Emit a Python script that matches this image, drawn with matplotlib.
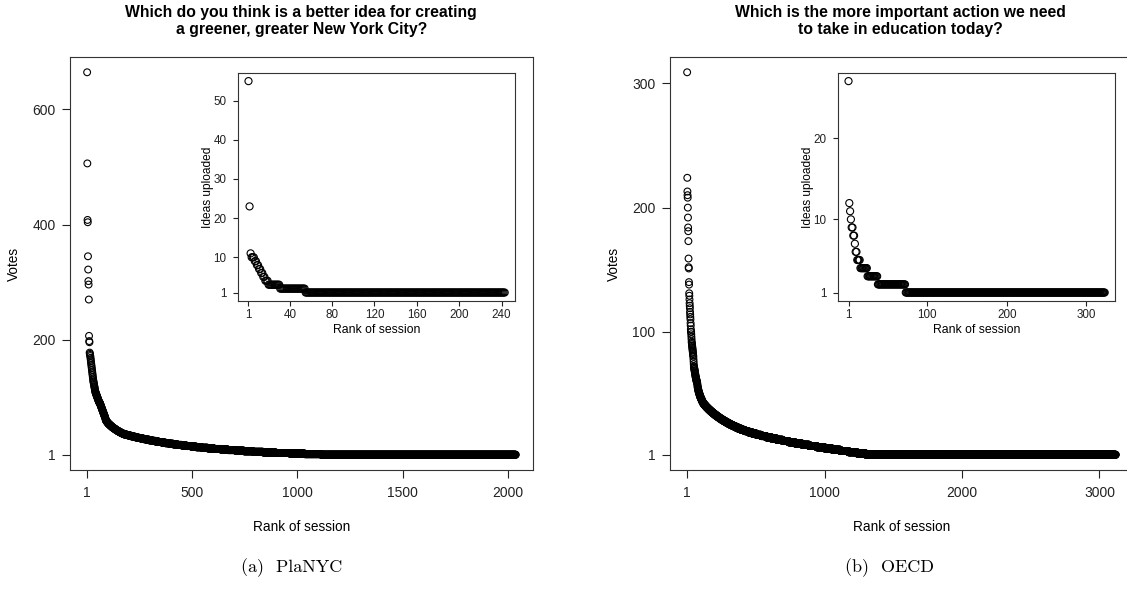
import numpy as np
import matplotlib
matplotlib.use('Agg')
import matplotlib.pyplot as plt

plt.rcParams['font.family'] = ['Liberation Sans', 'DejaVu Sans']

# ---- PlaNYC: votes per session (sorted), top sessions listed, rest as counts per vote level
title_a = 'Which do you think is a better idea for creating\na greener, greater New York City?'
top_votes_a = [664, 506, 408, 404, 345, 322, 302, 296, 270, 207, 198, 196, 178,
               176, 174, 172, 169, 166, 163, 160, 157, 154, 151, 148, 145, 142, 139, 136, 133, 130,
               128, 126, 124, 122, 120, 118, 116, 114, 112, 110, 109, 108, 107, 106, 105,
               104, 103, 102, 101, 100, 99, 98, 97, 96, 95, 94, 93, 92, 92, 91, 91, 90,
               89, 88, 87, 86, 85, 84, 83, 82, 81, 80, 79, 78, 77, 76, 75, 74, 73, 72, 71,
               70, 69, 68, 67, 66, 65, 64, 62, 61]
# number of sessions with 1, 2, 3, ... 60 votes
counts_a = [925, 78, 72, 66, 60, 47, 44, 40, 36, 34, 32, 30, 28, 26,
            24, 23, 22, 21, 20, 19, 18, 17,
            16, 15, 15, 14, 14, 13, 13, 12, 12, 11, 11, 11, 10, 11,
            6, 6, 5, 5, 5, 5, 4, 4, 4, 4, 4, 4, 3, 3, 3, 3, 3, 3, 3, 2, 2, 2, 2, 2]
# ideas uploaded per session
ideas_a_vals = [55, 23, 11, 10, 9, 8, 7, 6, 5, 4, 3, 2, 1]
ideas_a_counts = [1, 1, 1, 3, 2, 2, 2, 2, 2, 3, 11, 24, 189]
xticks_a = [1, 500, 1000, 1500, 2000]
yticks_a = [1, 200, 400, 600]
in_xticks_a = [1, 40, 80, 120, 160, 200, 240]
in_yticks_a = [1, 10, 20, 30, 40, 50]

# ---- OECD
title_b = 'Which is the more important action we need\nto take in education today?'
top_votes_b = [309, 224, 213, 210, 208, 200, 192, 184, 181, 173, 159, 152, 151, 140, 138,
               131, 129, 126, 123, 121, 119, 116, 114, 112, 110, 107, 105, 102, 100, 100,
               98, 96, 94, 92, 91, 90, 89, 88, 87, 86, 85, 84, 83, 82, 81, 80, 78, 76, 74,
               72, 72, 71, 70, 70, 69, 68, 68, 67, 66, 66, 65, 64, 64, 63, 63, 62, 62, 61,
               61, 60, 60, 60, 59, 59]
# number of sessions with 1, 2, 3, ... 58 votes
counts_b = [1818, 64, 62, 60, 58, 56, 57, 55, 52, 50, 47,
            44, 42, 40, 38, 36, 34, 31, 29, 27, 25,
            22, 20, 19, 18, 17, 16, 15, 14, 14, 13, 12, 12, 11,
            11, 10, 10, 9, 9, 8, 8, 7,
            5, 4, 4, 4, 4, 3, 3, 3, 3, 2, 2, 2, 2, 1, 1, 1]
ideas_b_vals = [27, 12, 11, 10, 9, 8, 7, 6, 5, 4, 3, 2, 1]
ideas_b_counts = [1, 1, 1, 1, 2, 2, 1, 2, 4, 9, 13, 35, 251]
xticks_b = [1, 1000, 2000, 3000]
yticks_b = [1, 100, 200, 300]
in_xticks_b = [1, 100, 200, 300]
in_yticks_b = [1, 10, 20]

captions = ['(a)  PlaNYC', '(b)  OECD']


def expand(top, counts):
    levels = np.arange(len(counts), 0, -1)
    return np.concatenate([np.array(top), np.repeat(levels, counts[::-1])])


def style(ax, xt, yt, size, ticklen, xpad):
    ax.set_xticks(xt)
    ax.set_yticks(yt)
    ax.margins(0.04)
    ax.tick_params(direction='out', length=ticklen, width=0.8, labelsize=size, colors='#222222')
    ax.tick_params(axis='y', pad=5)
    ax.tick_params(axis='x', pad=xpad)
    for s in ax.spines.values():
        s.set_linewidth(0.8)
        s.set_color('#333333')


def panel(fig, left, inset_left, title, top, counts, ivals, icounts, xt, yt, ixt, iyt, cap, cx):
    ax = fig.add_axes([left, 0.2114, 0.4107, 0.693])
    votes = expand(top, counts)
    ax.scatter(np.arange(1, len(votes) + 1), votes, s=24, facecolors='none',
               edgecolors='black', linewidths=0.8, zorder=3)
    style(ax, xt, yt, 10, 5.5, 6)
    ax.set_xlabel('Rank of session', fontsize=9.8)
    ax.set_ylabel('Votes', fontsize=9.8)
    ax.xaxis.set_label_coords(0.5, -0.122)
    ax.yaxis.set_label_coords(-0.105, 0.5)

    ins = fig.add_axes([inset_left, 0.495, 0.2455, 0.3831])
    ideas = np.repeat(ivals, icounts)
    ins.scatter(np.arange(1, len(ideas) + 1), ideas, s=26, facecolors='none',
                edgecolors='black', linewidths=0.8, zorder=3)
    style(ins, ixt, iyt, 8.4, 3.5, 2)
    ins.set_xlabel('Rank of session', fontsize=8.8)
    ins.set_ylabel('Ideas uploaded', fontsize=8.6)
    ins.xaxis.set_label_coords(0.5, -0.1)
    ins.yaxis.set_label_coords(-0.086, 0.5)

    fig.text(cx, 1 - 5 / 596, title, ha='center', va='top', fontsize=11.3,
             fontweight='bold', linespacing=1.2)
    fig.text(cx - 0.009, 1 - 568 / 596, cap, ha='center', va='center', fontsize=13,
             family='cmr10')


fig = plt.figure(figsize=(11.27, 5.96), dpi=100)
panel(fig, 0.0621, 0.2114, title_a, top_votes_a, counts_a, ideas_a_vals, ideas_a_counts,
      xticks_a, yticks_a, in_xticks_a, in_yticks_a, captions[0], 0.2674)
panel(fig, 0.5945, 0.7438, title_b, top_votes_b, counts_b, ideas_b_vals, ideas_b_counts,
      xticks_b, yticks_b, in_xticks_b, in_yticks_b, captions[1], 0.7986)
plt.savefig('out.png', dpi=100)
